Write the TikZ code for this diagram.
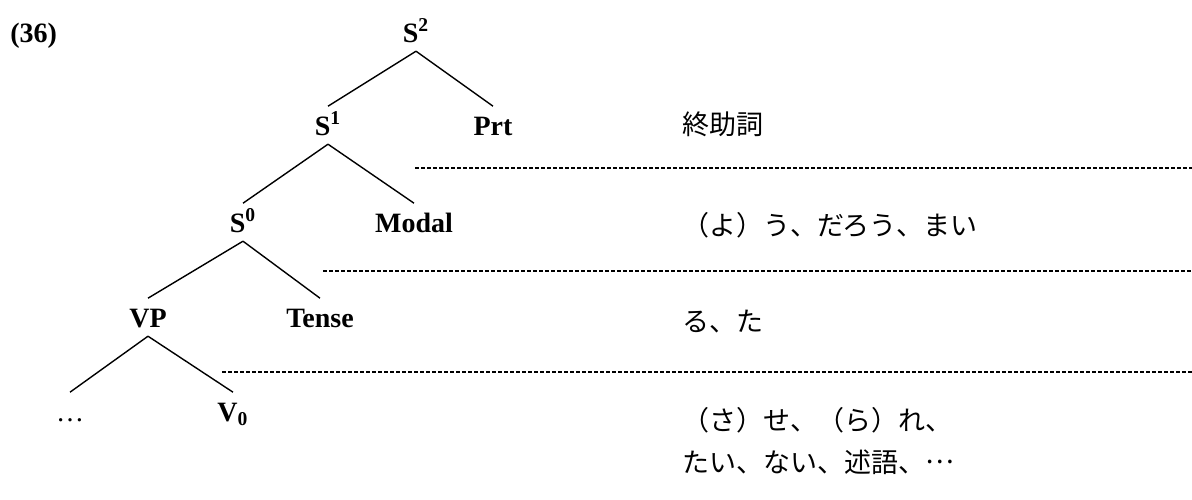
\documentclass[tikz,border=0pt]{standalone}
\usepackage{fontspec}
\setmainfont{Liberation Serif}
\newfontfamily\jafont{Noto Sans CJK JP}
\usetikzlibrary{positioning}

\begin{document}
\begin{tikzpicture}[x=0.5pt, y=-0.5pt,
    cat/.style={anchor=base, inner sep=3pt, text height=11.2pt, text depth=1.4pt, font=\fontsize{14}{16}\selectfont\bfseries},
    branch/.style={line width=0.7pt},
    tier/.style={dash pattern=on 2pt off 1pt, line width=0.6pt},
    gloss/.style={anchor=west, inner sep=0pt, align=left, font=\jafont\fontsize{13.5}{21}\selectfont}
]
\useasboundingbox (0,0) rectangle (1192,499);

\node[cat, anchor=base west, inner sep=0pt] (exnum) at (10,42) {(36)};

% tree
\node[cat] (s2) at (416,42) {S\textsuperscript{2}};
\node[cat] (s1) at (328,135) {S\textsuperscript{1}};
\node[cat] (prt) at (493,135) {Prt};
\node[cat] (s0) at (243,232) {S\textsuperscript{0}};
\node[cat] (modal) at (414,232) {Modal};
\node[cat] (vp) at (148,327) {VP};
\node[cat] (tense) at (320,327) {Tense};
\node[cat] (dots) at (70,421) {\mdseries …};
\node[cat] (v0) at (233,421) {V\textsubscript{0}};

\draw[branch] (s2.south) -- (s1.north);
\draw[branch] (s2.south) -- (prt.north);
\draw[branch] (s1.south) -- (s0.north);
\draw[branch] (s1.south) -- (modal.north);
\draw[branch] (s0.south) -- (vp.north);
\draw[branch] (s0.south) -- (tense.north);
\draw[branch] (vp.south) -- (dots.north);
\draw[branch] (vp.south) -- (v0.north);

% tiers
\coordinate (tier1l) at (415,168);
\coordinate (tier1r) at (1192,168);
\coordinate (tier2l) at (323,271);
\coordinate (tier2r) at (1192,271);
\coordinate (tier3l) at (222,372);
\coordinate (tier3r) at (1192,372);
\draw[tier] (tier1l) -- (tier1r);
\draw[tier] (tier2l) -- (tier2r);
\draw[tier] (tier3l) -- (tier3r);

% glosses
\node[gloss] (gprt) at (682,124) {終助詞};
\node[gloss] (gmodal) at (682,225) {（よ）う、だろう、まい};
\node[gloss] (gtense) at (682,322) {る、た};
\node[gloss] (gverb) at (682,441) {（さ）せ、（ら）れ、\\たい、ない、述語、\raisebox{0.33em}{…}};
\end{tikzpicture}
\end{document}
